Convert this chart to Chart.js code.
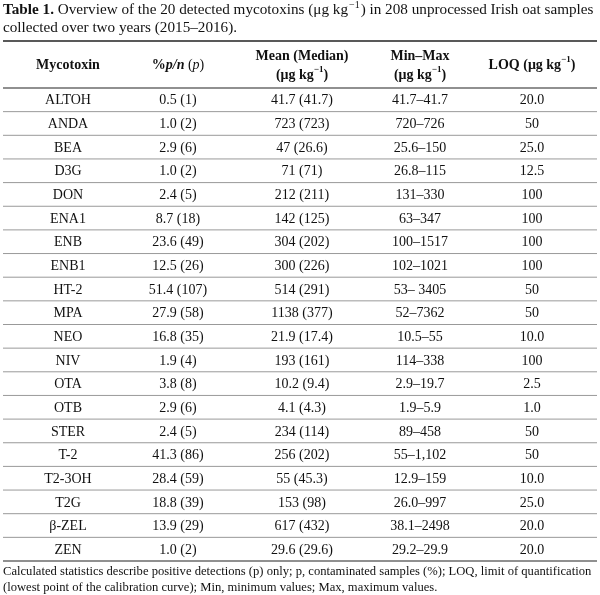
<!DOCTYPE html>
<html><head><meta charset="utf-8">
<script src="https://cdn.jsdelivr.net/npm/chart.js@4/dist/chart.umd.min.js"></script>
<style>html,body{margin:0;padding:0;background:#fff}#w{width:600px;height:595px}</style>
</head><body><div id="w"><canvas id="c"></canvas></div>
<script>
const mycotoxins=["ALTOH","ANDA","BEA","D3G","DON","ENA1","ENB","ENB1","HT-2","MPA","NEO","NIV","OTA","OTB","STER","T-2","T2-3OH","T2G","β-ZEL","ZEN"];
const pctPN=["0.5 (1)","1.0 (2)","2.9 (6)","1.0 (2)","2.4 (5)","8.7 (18)","23.6 (49)","12.5 (26)","51.4 (107)","27.9 (58)","16.8 (35)","1.9 (4)","3.8 (8)","2.9 (6)","2.4 (5)","41.3 (86)","28.4 (59)","18.8 (39)","13.9 (29)","1.0 (2)"];
const meanMedian=["41.7 (41.7)","723 (723)","47 (26.6)","71 (71)","212 (211)","142 (125)","304 (202)","300 (226)","514 (291)","1138 (377)","21.9 (17.4)","193 (161)","10.2 (9.4)","4.1 (4.3)","234 (114)","256 (202)","55 (45.3)","153 (98)","617 (432)","29.6 (29.6)"];
const minMax=["41.7–41.7","720–726","25.6–150","26.8–115","131–330","63–347","100–1517","102–1021","53– 3405","52–7362","10.5–55","114–338","2.9–19.7","1.9–5.9","89–458","55–1,102","12.9–159","26.0–997","38.1–2498","29.2–29.9"];
const loq=["20.0","50","25.0","12.5","100","100","100","100","50","50","10.0","100","2.5","1.0","50","50","10.0","25.0","20.0","20.0"];
const columns=[mycotoxins,pctPN,meanMedian,minMax,loq];
const colX=[68,178,302,420,532];
const F="'Liberation Serif', serif";
const tablePlugin={id:'table',afterDraw(ch){
  const c=ch.ctx,ys=ch.scales.y,a=ch.chartArea;
  c.save();c.fillStyle='#111';c.textBaseline='middle';
  c.textAlign='left';
  const TF="15.2px ";
  c.font="bold "+TF+F;c.fillText("Table 1.",3,10);
  let w=c.measureText("Table 1. ").width;
  c.font=TF+F;
  c.fillText("Overview of the 20 detected mycotoxins (μg kg",3+w,10);
  let w2=c.measureText("Overview of the 20 detected mycotoxins (μg kg").width;
  c.font="10px "+F;c.fillText("−1",3+w+w2+1,5);
  let w3=c.measureText("−1").width;
  c.font=TF+F;c.fillText(") in 208 unprocessed Irish oat samples",3+w+w2+w3+2,10);
  c.fillText("collected over two years (2015–2016).",3,28);
  c.strokeStyle='#222';c.lineWidth=1.6;
  c.beginPath();c.moveTo(3,41);c.lineTo(597,41);c.stroke();
  c.lineWidth=1.2;
  c.beginPath();c.moveTo(3,a.top);c.lineTo(597,a.top);c.stroke();
  c.beginPath();c.moveTo(3,a.bottom);c.lineTo(597,a.bottom);c.stroke();
  const rh=(a.bottom-a.top)/mycotoxins.length;
  c.strokeStyle='#999';c.lineWidth=1;
  for(let i=1;i<mycotoxins.length;i++){const y=a.top+i*rh;c.beginPath();c.moveTo(3,y);c.lineTo(597,y);c.stroke();}
  c.textAlign='center';
  const sup=(parts,x,y)=>{
    let tot=0;parts.forEach(p=>{c.font=(p[1]?"bold 9px ":"bold 14px ")+F;tot+=c.measureText(p[0]).width;});
    let cx=x-tot/2;c.textAlign='left';
    parts.forEach(p=>{c.font=(p[1]?"bold 9px ":"bold 14px ")+F;c.fillText(p[0],cx,p[1]?y-5:y);cx+=c.measureText(p[0]).width;});
    c.textAlign='center';
  };
  c.font="bold 14px "+F;c.fillText("Mycotoxin",colX[0],65);
  let t1="%",t2="p/n";
  c.font="bold 14px "+F;let a1=c.measureText(t1).width;c.font="bold italic 14px "+F;let a2=c.measureText(t2).width;c.font="14px "+F;
  let a3=c.measureText(" (p)").width;let sx=colX[1]-(a1+a2+a3)/2;c.textAlign='left';
  c.font="bold 14px "+F;c.fillText(t1,sx,65);c.font="bold italic 14px "+F;c.fillText(t2,sx+a1,65);c.font="14px "+F;c.fillText(" (",sx+a1+a2,65);
  c.font="italic 14px "+F;c.fillText("p",sx+a1+a2+c.measureText(" (").width,65);c.font="14px "+F;c.fillText(")",sx+a1+a2+c.measureText(" (p").width,65);
  c.textAlign='center';
  c.font="bold 14px "+F;c.fillText("Mean (Median)",colX[2],56);
  sup([["(μg kg",0],["−1",1],[")",0]],colX[2],75);
  c.font="bold 14px "+F;c.fillText("Min–Max",colX[3],56);
  sup([["(μg kg",0],["−1",1],[")",0]],colX[3],75);
  sup([["LOQ (μg kg",0],["−1",1],[")",0]],colX[4],65);
  c.font="14px "+F;c.textAlign='center';
  columns.forEach((col,j)=>col.forEach((v,i)=>c.fillText(v,colX[j],ys.getPixelForValue(i)+1)));
  c.textAlign='left';c.font="12.6px "+F;
  c.fillText("Calculated statistics describe positive detections (p) only; p, contaminated samples (%); LOQ, limit of quantification",3,572);
  c.fillText("(lowest point of the calibration curve); Min, minimum values; Max, maximum values.",3,588);
  c.restore();
}};
new Chart(document.getElementById('c'),{
  type:'bar',
  data:{labels:mycotoxins,datasets:[{data:mycotoxins.map(()=>0),backgroundColor:'rgba(0,0,0,0)'}]},
  options:{indexAxis:'y',responsive:true,maintainAspectRatio:false,animation:false,
    layout:{padding:{top:88,bottom:34,left:3,right:3}},
    plugins:{legend:{display:false},tooltip:{enabled:false}},
    scales:{x:{display:false,min:0,max:1},y:{display:false,offset:true}}},
  plugins:[tablePlugin]
});
</script></body></html>
